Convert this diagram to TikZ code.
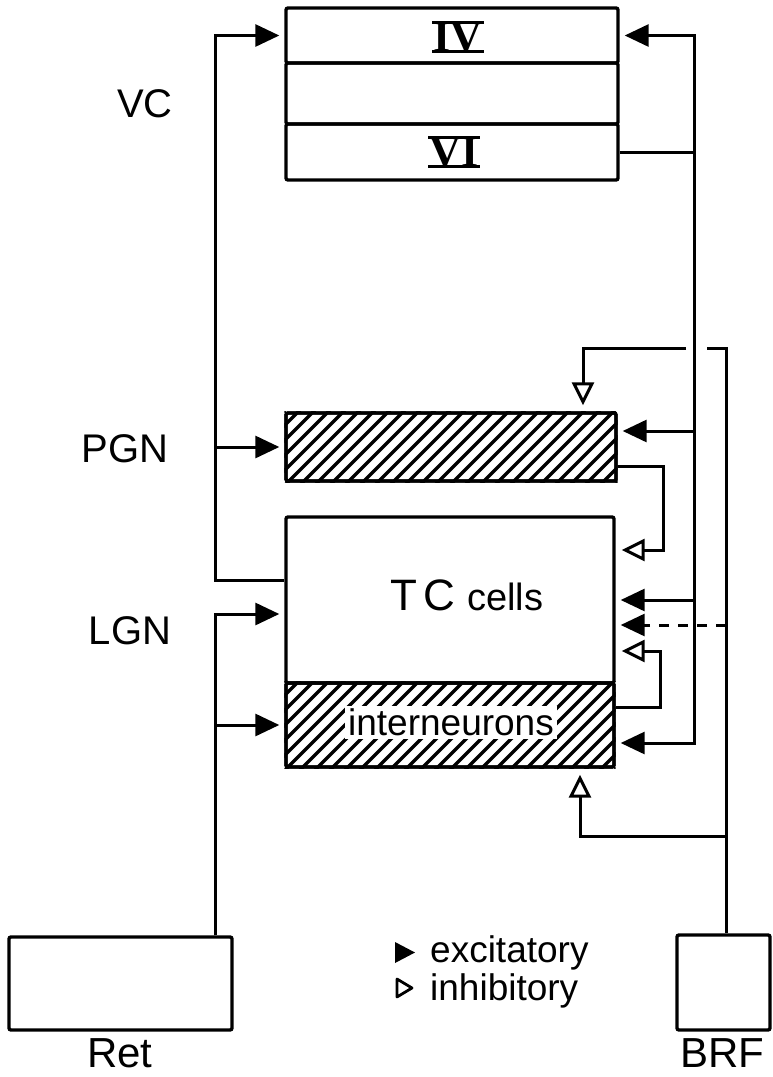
\documentclass[tikz,border=0pt]{standalone}
\usepackage{fontspec}
\setmainfont{Liberation Sans}
\newfontfamily\romfont{Liberation Serif}
\usetikzlibrary{arrows.meta}
\begin{document}
\begin{tikzpicture}[x=1pt,y=-1pt,
  box/.style={draw, line width=3.4pt, rounded corners=2pt, inner sep=0pt},
  conn/.style={line width=3pt},
  exc/.style={conn, -{Triangle[length=24pt,width=22pt]}, shorten >=5pt},
  inh/.style={conn, -{Triangle[open,length=23pt,width=22pt,line width=3pt]}, shorten >=6pt},
  lbl/.style={font=\fontsize{40}{40}\selectfont, inner sep=0pt},
  big/.style={font=\fontsize{42}{42}\selectfont, inner sep=0pt},
  roman/.style={font=\romfont\bfseries\fontsize{44}{44}\selectfont, inner sep=0pt, text height=29pt, text depth=0pt},
  hatchline/.style={line width=3.3pt},
  legend/.style={font=\fontsize{37}{37}\selectfont, inner sep=0pt, anchor=base west}
]
\useasboundingbox (0,0) rectangle (773,1077);

% boxes
\node[box, minimum width=332pt, minimum height=55pt] (vc4) at (452,35.5) {};
\node[box, minimum width=332pt, minimum height=61pt] (vc5) at (452,93.5) {};
\node[box, minimum width=332pt, minimum height=56pt] (vc6) at (452,152) {};
\node[box, minimum width=330pt, minimum height=68pt] (pgn) at (451,447) {};
\node[box, minimum width=328pt, minimum height=166pt] (tc) at (450,600) {};
\node[box, minimum width=328pt, minimum height=84pt] (inter) at (450,725) {};
\node[box, minimum width=223pt, minimum height=93pt] (ret) at (120.5,983.5) {};
\node[box, minimum width=93pt, minimum height=95pt] (brf) at (723.5,982.5) {};

% hatching
\begin{scope}
  \clip (pgn.north west) rectangle (pgn.south east);
  \foreach \c in {680,695,...,1130} \draw[hatchline] (\c-400,400) -- (\c-500,500);
\end{scope}
\begin{scope}
  \clip (inter.north west) rectangle (inter.south east);
  \foreach \c in {950,965,...,1410} \draw[hatchline] (\c-670,670) -- (\c-780,780);
\end{scope}
\node[box] at (pgn) [minimum width=330pt, minimum height=68pt] {};
\node[box] at (inter) [minimum width=328pt, minimum height=84pt] {};

% texts inside
\node[roman] (iv) at (458,37) {IV};
\draw[line width=3.4pt] ([xshift=-1pt]iv.north west) -- ([xshift=1pt]iv.north east);
\draw[line width=3.4pt] ([xshift=-1pt]iv.south west) -- ([xshift=1pt]iv.south east);
\node[roman] (vi) at (454,152) {VI};
\draw[line width=3.4pt] ([xshift=-1pt]vi.north west) -- ([xshift=1pt]vi.north east);
\draw[line width=3.4pt] ([xshift=-1pt]vi.south west) -- ([xshift=1pt]vi.south east);

\node[inner sep=0pt, anchor=base] (tclabel) at (467,610)
  {\fontsize{44}{44}\selectfont T\kern6pt C\kern12pt\fontsize{38}{38}\selectfont cells};
\node[fill=white, inner xsep=3pt, inner ysep=2pt, text height=27pt, text depth=2pt,
  anchor=base, font=\fontsize{37}{37}\selectfont] (intlabel) at (451,735) {interneurons};

% side labels
\node[lbl] (vclab) at (145,104) {VC};
\node[lbl] (pgnlab) at (125,449) {PGN};
\node[lbl] (lgnlab) at (130,631) {LGN};
\node[big] (retlab) at (120,1053) {Ret};
\node[big] (brflab) at (722,1053) {BRF};

% legend
\node[legend] (exclab) at (430,962) {excitatory};
\node[legend] (inhlab) at (430,1000) {inhibitory};
\fill (395,942) -- (415,952.5) -- (395,963) -- cycle;
\draw[line width=2.8pt, line join=round] (397,979) -- (412,988) -- (397,997) -- cycle;

% left side connectors
\coordinate (L) at (215,580);
\draw[exc] (tc.west |- L) -- (L) |- (vc4.west);
\draw[exc] (L |- pgn.west) -- (pgn.west);
\coordinate (R) at (215,614);
\draw[exc] (ret.north -| R) -- (R) -- (tc.west |- R);
\draw[exc] (ret.north -| R) |- (inter.west);

% right side: VC layer VI feedback
\coordinate (V) at (694,152);
\draw[exc] (vc6.east) -- (V) |- (vc4.east);
\coordinate (Vbot) at (694,743);
\draw[exc] (V) -- (Vbot) -- (inter.east |- Vbot);
\coordinate (Vp) at (694,431);
\draw[exc] (Vp) -- (pgn.east |- Vp);
\coordinate (Vt) at (694,600);
\draw[exc] (Vt) -- (tc.east |- Vt);

% BRF
\coordinate (B1) at (726,348);
\coordinate (Bgap2) at (707,348);
\draw[conn] (brf.north -| B1) -- (B1) -- (Bgap2);
\coordinate (Bgap) at (686,348);
\coordinate (Bc) at (583,348);
\draw[inh] (Bgap) -- (Bc) -- (pgn.north -| Bc);
\coordinate (Bd) at (726,625);
\draw[exc, dash pattern=on 10pt off 9pt] (Bd) -- (tc.east |- Bd);
\coordinate (Bb) at (726,836);
\coordinate (Bb2) at (580,836);
\draw[inh] (Bb) -- (Bb2) -- (inter.south -| Bb2);

% PGN -> TC inhibition
\coordinate (P1) at (663,466);
\coordinate (P2) at (663,550);
\draw[inh] (pgn.east |- P1) -- (P1) -- (P2) -- (tc.east |- P2);

% interneurons -> TC inhibition
\coordinate (I1) at (660,707);
\coordinate (I2) at (660,651);
\draw[inh] (inter.east |- I1) -- (I1) -- (I2) -- (tc.east |- I2);
\end{tikzpicture}
\end{document}
